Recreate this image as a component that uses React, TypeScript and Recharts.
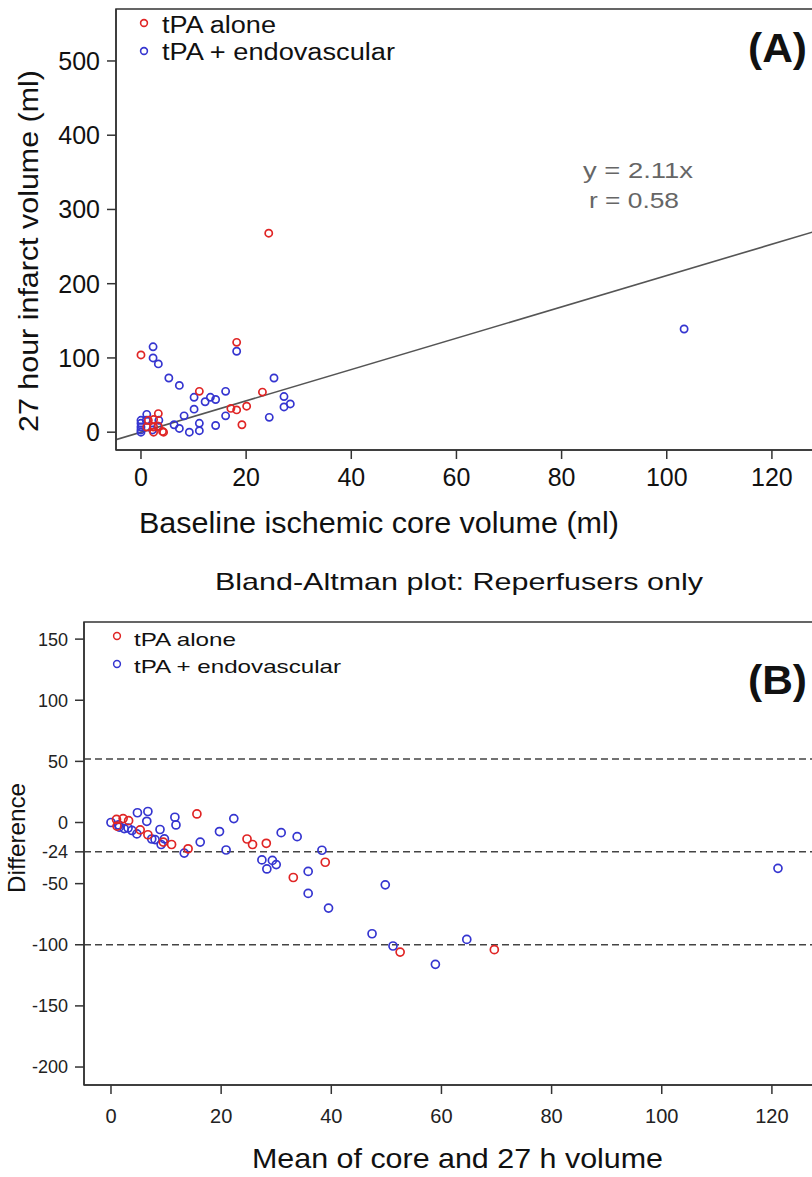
import React from "react";
import {
  ScatterChart,
  Scatter,
  XAxis,
  YAxis,
  ReferenceLine,
  ReferenceArea,
} from "recharts";

// ---------- Panel A data (baseline core vs 27 h infarct) ----------
const aloneA = [
  { x: 0, y: 104 }, { x: 18.2, y: 121 }, { x: 24.3, y: 268 }, { x: 11.1, y: 55 },
  { x: 23.1, y: 54 }, { x: 17.1, y: 32 }, { x: 18.2, y: 30 }, { x: 20.1, y: 35 },
  { x: 19.2, y: 10 }, { x: 3.3, y: 25 }, { x: 2.4, y: 17 }, { x: 2.4, y: 7 },
  { x: 2.4, y: 0 }, { x: 4.1, y: 1 }, { x: 4.3, y: 0 }, { x: 1.1, y: 7 },
  { x: 1.4, y: 16 }, { x: 3.3, y: 8 },
];
const endoA = [
  { x: 2.3, y: 115 }, { x: 2.3, y: 100 }, { x: 3.3, y: 92 }, { x: 5.3, y: 73 },
  { x: 7.3, y: 63 }, { x: 18.2, y: 109 }, { x: 25.3, y: 73 }, { x: 16.1, y: 55 },
  { x: 10.1, y: 47 }, { x: 13.2, y: 47 }, { x: 14.2, y: 44 }, { x: 12.2, y: 41 },
  { x: 10.1, y: 31 }, { x: 8.2, y: 22 }, { x: 16.1, y: 22 }, { x: 27.2, y: 48 },
  { x: 27.2, y: 34 }, { x: 28.4, y: 38 }, { x: 24.4, y: 20 }, { x: 6.3, y: 10 },
  { x: 7.3, y: 5 }, { x: 9.2, y: 0 }, { x: 11.1, y: 12 }, { x: 11.1, y: 2 },
  { x: 14.2, y: 9 }, { x: 1.1, y: 24 }, { x: 3.4, y: 16 }, { x: 3.2, y: 8 },
  { x: 0, y: 16 }, { x: 0, y: 12 }, { x: 0, y: 7 }, { x: 0, y: 3 },
  { x: 0, y: 0 }, { x: 1, y: 16 }, { x: 2.2, y: 3 }, { x: 103.3, y: 139 },
];
const slopeA = 2.11;
const xDomainA = [-4.75, 132];
const yDomainA = [-24, 570];
const xTicksA = [0, 20, 40, 60, 80, 100, 120];
const yTicksA = [0, 100, 200, 300, 400, 500];

// ---------- Panel B data (Bland-Altman) ----------
const aloneB = [
  { x: 1.0, y: 2.5 }, { x: 2.2, y: 3.2 }, { x: 3.2, y: 1.5 }, { x: 1.1, y: -3 },
  { x: 5.3, y: -6 }, { x: 6.7, y: -10 }, { x: 9.5, y: -16 }, { x: 11, y: -18 },
  { x: 15.6, y: 7 }, { x: 14, y: -21.5 }, { x: 24.7, y: -13.5 }, { x: 25.7, y: -18 },
  { x: 28.2, y: -17 }, { x: 38.9, y: -32.5 }, { x: 33.1, y: -45 }, { x: 52.5, y: -106 },
  { x: 69.6, y: -104 },
];
const endoB = [
  { x: 0, y: 0 }, { x: 1.4, y: -2 }, { x: 1.5, y: -3.8 }, { x: 2.4, y: -5 },
  { x: 3.1, y: -4.5 }, { x: 3.8, y: -6.5 }, { x: 4.7, y: -9.3 }, { x: 4.8, y: 8 },
  { x: 6.7, y: 9 }, { x: 6.5, y: 1 }, { x: 7.4, y: -13.5 }, { x: 8, y: -14 },
  { x: 8.9, y: -5.7 }, { x: 9.7, y: -13.4 }, { x: 9.1, y: -18 }, { x: 11.6, y: 4.3 },
  { x: 11.8, y: -2 }, { x: 16.2, y: -16 }, { x: 13.3, y: -25 }, { x: 19.7, y: -7.4 },
  { x: 22.3, y: 3.2 }, { x: 20.9, y: -22.5 }, { x: 30.9, y: -8.3 }, { x: 33.8, y: -11.6 },
  { x: 38.3, y: -22.7 }, { x: 27.4, y: -30.6 }, { x: 29.3, y: -31 }, { x: 30, y: -34.4 },
  { x: 28.3, y: -38 }, { x: 35.8, y: -40 }, { x: 35.8, y: -58 }, { x: 39.5, y: -70 },
  { x: 49.8, y: -51 }, { x: 47.4, y: -91 }, { x: 51.2, y: -101 }, { x: 58.9, y: -116 },
  { x: 64.6, y: -95.6 }, { x: 121.1, y: -37.5 },
];
const limitLinesB = [52, -24, -100];
const xDomainB = [-4.9, 132];
const yDomainB = [-214.7, 164];
const xTicksB = [0, 20, 40, 60, 80, 100, 120];
const yTicksB = [150, 100, 50, 0, -24, -50, -100, -150, -200];

const RED = "#e02525";
const BLUE = "#3535d0";
const AXIS = "#333";
const FONT = "'Liberation Sans', Arial, sans-serif";

const ring = (color: string, r: number) => (props: any) => (
  <circle cx={props.cx} cy={props.cy} r={r} fill="none" stroke={color} strokeWidth={1.7} />
);

export default function App() {
  return (
    <div
      style={{
        position: "absolute",
        left: 0,
        top: 0,
        width: 812,
        height: 1177,
        overflow: "hidden",
        background: "#fff",
        fontFamily: FONT,
      }}
    >
      {/* Panel A */}
      <div style={{ position: "absolute", left: 0, top: 0 }}>
        <ScatterChart width={835} height={510} margin={{ top: 9, right: 0, bottom: 0, left: 0 }}>
          <XAxis
            type="number"
            dataKey="x"
            domain={xDomainA}
            ticks={xTicksA}
            interval={0}
            allowDataOverflow
            height={60}
            tickSize={9}
            tickMargin={9}
            axisLine={{ stroke: AXIS, strokeWidth: 1.5 }}
            tickLine={{ stroke: AXIS, strokeWidth: 1.5 }}
            tick={{ fontSize: 25, fill: "#111", fontFamily: FONT }}
          />
          <YAxis
            type="number"
            dataKey="y"
            domain={yDomainA}
            ticks={yTicksA}
            interval={0}
            allowDataOverflow
            width={116}
            tickSize={9}
            tickMargin={7}
            axisLine={{ stroke: AXIS, strokeWidth: 1.5 }}
            tickLine={{ stroke: AXIS, strokeWidth: 1.5 }}
            tick={{ fontSize: 25, fill: "#111", fontFamily: FONT }}
          />
          <ReferenceArea
            x1={xDomainA[0]}
            x2={xDomainA[1]}
            y1={yDomainA[0]}
            y2={yDomainA[1]}
            fill="none"
            fillOpacity={0}
            stroke={AXIS}
            strokeWidth={1.5}
            ifOverflow="visible"
          />
          <ReferenceLine
            segment={[
              { x: xDomainA[0], y: slopeA * xDomainA[0] },
              { x: xDomainA[1], y: slopeA * xDomainA[1] },
            ]}
            stroke="#555"
            strokeWidth={1.6}
            ifOverflow="hidden"
          />
          <Scatter data={endoA} shape={ring(BLUE, 3.6)} isAnimationActive={false} />
          <Scatter data={aloneA} shape={ring(RED, 3.6)} isAnimationActive={false} />
        </ScatterChart>
      </div>

      {/* Panel B */}
      <div style={{ position: "absolute", left: 0, top: 600 }}>
        <ScatterChart width={838} height={545} margin={{ top: 22, right: 0, bottom: 0, left: 0 }}>
          <XAxis
            type="number"
            dataKey="x"
            domain={xDomainB}
            ticks={xTicksB}
            interval={0}
            allowDataOverflow
            height={60}
            tickSize={9}
            tickMargin={15}
            axisLine={{ stroke: AXIS, strokeWidth: 1.5 }}
            tickLine={{ stroke: AXIS, strokeWidth: 1.5 }}
            tick={{ fontSize: 20, fill: "#222", fontFamily: FONT }}
          />
          <YAxis
            type="number"
            dataKey="y"
            domain={yDomainB}
            ticks={yTicksB}
            interval={0}
            allowDataOverflow
            width={84}
            tickSize={9}
            tickMargin={7}
            axisLine={{ stroke: AXIS, strokeWidth: 1.5 }}
            tickLine={{ stroke: AXIS, strokeWidth: 1.5 }}
            tick={{ fontSize: 18, fill: "#222", fontFamily: FONT }}
          />
          <ReferenceArea
            x1={xDomainB[0]}
            x2={xDomainB[1]}
            y1={yDomainB[0]}
            y2={yDomainB[1]}
            fill="none"
            fillOpacity={0}
            stroke={AXIS}
            strokeWidth={1.5}
            ifOverflow="visible"
          />
          {limitLinesB.map((v) => (
            <ReferenceLine key={v} y={v} stroke="#444" strokeWidth={1.5} strokeDasharray="7 4" />
          ))}
          <Scatter data={endoB} shape={ring(BLUE, 4)} isAnimationActive={false} />
          <Scatter data={aloneB} shape={ring(RED, 4)} isAnimationActive={false} />
        </ScatterChart>
      </div>

      {/* Text overlay */}
      <svg
        width={812}
        height={1177}
        style={{ position: "absolute", left: 0, top: 0, pointerEvents: "none" }}
        fontFamily={FONT}
      >
        {/* Panel A legend */}
        <circle cx={144} cy={23} r={3.4} fill="none" stroke={RED} strokeWidth={1.6} />
        <circle cx={144} cy={51} r={3.4} fill="none" stroke={BLUE} strokeWidth={1.6} />
        <text x={162} y={33} fontSize={23} fill="#111" textLength={114} lengthAdjust="spacingAndGlyphs">tPA alone</text>
        <text x={162} y={60} fontSize={23} fill="#111" textLength={233} lengthAdjust="spacingAndGlyphs">tPA + endovascular</text>
        <text x={748} y={62} fontSize={40} fontWeight="bold" fill="#111" textLength={59} lengthAdjust="spacingAndGlyphs">(A)</text>
        <text x={583} y={178} fontSize={22} fill="#666" textLength={110} lengthAdjust="spacingAndGlyphs">y = 2.11x</text>
        <text x={589} y={208} fontSize={22} fill="#666" textLength={90} lengthAdjust="spacingAndGlyphs">r = 0.58</text>
        <text
          transform="translate(38,432) rotate(-90)"
          x={0}
          y={0}
          fontSize={28}
          fill="#111"
          textLength={362}
          lengthAdjust="spacingAndGlyphs"
        >
          27 hour infarct volume (ml)
        </text>
        <text x={139} y={533} fontSize={29} fill="#111" textLength={480} lengthAdjust="spacingAndGlyphs">
          Baseline ischemic core volume (ml)
        </text>
        <text x={215} y={590} fontSize={24} fill="#111" textLength={488} lengthAdjust="spacingAndGlyphs">
          Bland-Altman plot: Reperfusers only
        </text>

        {/* Panel B legend */}
        <circle cx={117} cy={636} r={3.4} fill="none" stroke={RED} strokeWidth={1.5} />
        <circle cx={117} cy={664} r={3.4} fill="none" stroke={BLUE} strokeWidth={1.5} />
        <text x={134} y={646} fontSize={19} fill="#111" textLength={102} lengthAdjust="spacingAndGlyphs">tPA alone</text>
        <text x={134} y={673} fontSize={19} fill="#111" textLength={207} lengthAdjust="spacingAndGlyphs">tPA + endovascular</text>
        <text x={748} y={694} fontSize={40} fontWeight="bold" fill="#111" textLength={59} lengthAdjust="spacingAndGlyphs">(B)</text>
        <text
          transform="translate(25,893) rotate(-90)"
          x={0}
          y={0}
          fontSize={24}
          fill="#111"
          textLength={110}
          lengthAdjust="spacingAndGlyphs"
        >
          Difference
        </text>
        <text x={252} y={1168} fontSize={28} fill="#111" textLength={411} lengthAdjust="spacingAndGlyphs">
          Mean of core and 27 h volume
        </text>
      </svg>
    </div>
  );
}
